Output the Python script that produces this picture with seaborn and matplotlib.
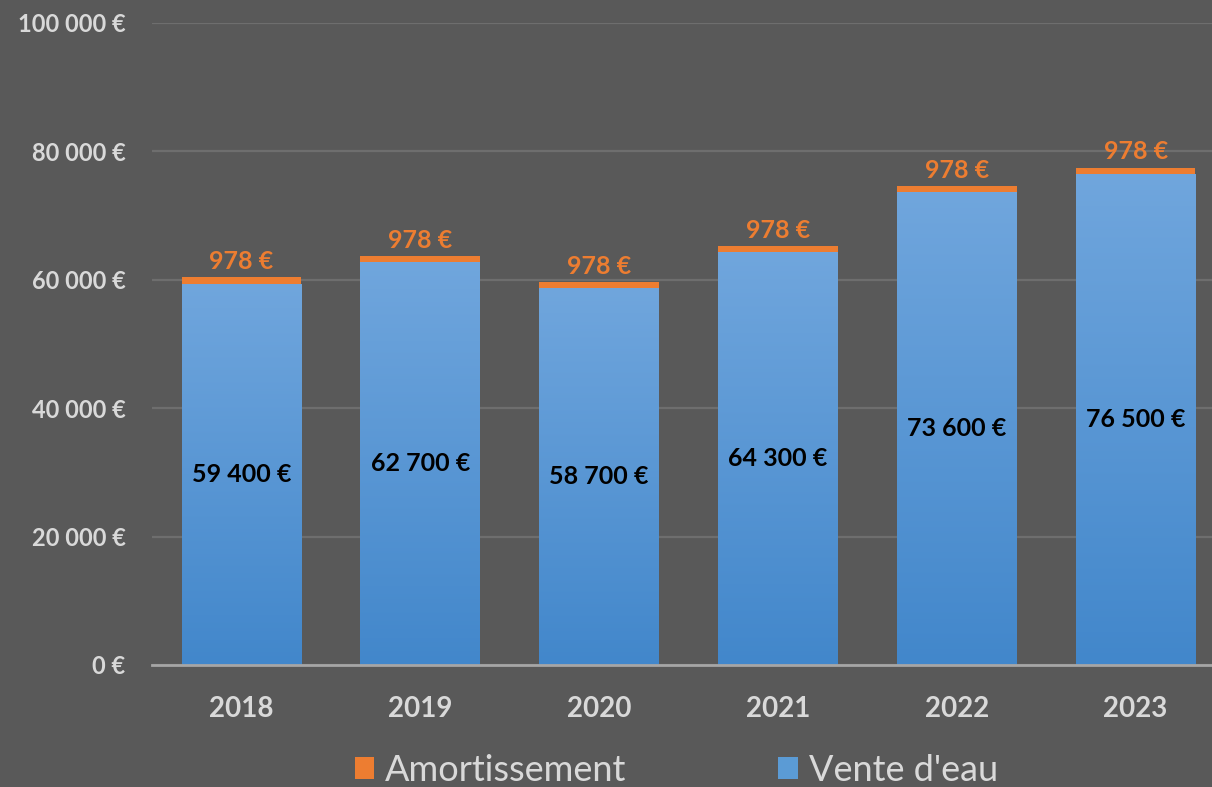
import numpy as np
import pandas as pd
import matplotlib
matplotlib.use("Agg")
import matplotlib.pyplot as plt
import seaborn as sns
from matplotlib.patches import Patch
from matplotlib.colors import LinearSegmentedColormap

years = ["2018", "2019", "2020", "2021", "2022", "2023"]
vente = [59400, 62700, 58700, 64300, 73600, 76500]
amort = [978, 978, 978, 978, 978, 978]
yticks = [0, 20000, 40000, 60000, 80000, 100000]
ytick_labels = ["0 €", "20 000 €", "40 000 €", "60 000 €", "80 000 €", "100 000 €"]
vente_labels = ["59 400 €", "62 700 €", "58 700 €", "64 300 €", "73 600 €", "76 500 €"]
amort_labels = ["978 €"] * 6
series_names = ["Amortissement", "Vente d'eau"]

BG = "#595959"
ORANGE = "#ED7D31"
BLUE = "#5B9BD5"
TXT = "#D9D9D9"

sns.set_theme(style="dark")
plt.rcParams["font.family"] = ["Lato", "DejaVu Sans"]

df = pd.DataFrame({"year": years, "vente": vente, "amort": amort})
df["total"] = df["vente"] + df["amort"]

fig = plt.figure(figsize=(12.12, 7.87), dpi=100, facecolor=BG)
ax = fig.add_axes([152 / 1212, 1 - 665 / 787, (1225 - 152) / 1212, (665 - 23) / 787])
ax.set_facecolor(BG)

sns.barplot(data=df, x="year", y="total", color=ORANGE, saturation=1, width=0.67, ax=ax,
            zorder=2, edgecolor="none", linewidth=0)
n_or = len(ax.patches)
sns.barplot(data=df, x="year", y="vente", color=BLUE, saturation=1, width=0.67, ax=ax,
            zorder=3, edgecolor="none", linewidth=0)
blue_patches = ax.patches[n_or:]

# gradient fill on blue bars
cmap = LinearSegmentedColormap.from_list("g", ["#4287CB", "#70A6DD"])
grad = np.linspace(0, 1, 256).reshape(-1, 1)
for p in blue_patches:
    x0, y0 = p.get_x(), p.get_y()
    w, h = p.get_width(), p.get_height()
    im = ax.imshow(grad, cmap=cmap, aspect="auto", origin="lower",
                   extent=(x0, x0 + w, y0, y0 + h), zorder=3.5)
    im.set_clip_path(p)
ax.set_xlim(-0.5, len(years) - 0.5)
ax.set_ylim(0, 100000)

# labels
for i, p in enumerate(blue_patches):
    cx = p.get_x() + p.get_width() / 2
    ax.text(cx, p.get_height() / 2, vente_labels[i], ha="center", va="center",
            color="black", fontsize=18, fontweight="bold", zorder=5)
for i in range(len(years)):
    p = ax.patches[i]
    cx = p.get_x() + p.get_width() / 2
    ax.annotate(amort_labels[i], (cx, p.get_height()), xytext=(0, 3), textcoords="offset points",
                ha="center", va="bottom", color=ORANGE, fontsize=18, fontweight="bold", zorder=5)

ax.set_yticks(yticks)
ax.set_yticklabels(ytick_labels)
ax.yaxis.grid(True, color="#6E6E6E", linewidth=1.6, zorder=0)
ax.xaxis.grid(False)
ax.set_axisbelow(True)
for s in ["top", "right", "left"]:
    ax.spines[s].set_visible(False)
ax.spines["bottom"].set_color("#A6A6A6")
ax.spines["bottom"].set_linewidth(2)
ax.spines["bottom"].set_zorder(6)
ax.tick_params(axis="y", length=0, pad=19, labelcolor=TXT, labelsize=17)
ax.tick_params(axis="x", length=0, pad=22, labelcolor=TXT, labelsize=20)
for t in ax.get_yticklabels() + ax.get_xticklabels():
    t.set_fontweight("bold")
ax.set_xlabel("")
ax.set_ylabel("")

handles = [Patch(facecolor=ORANGE, edgecolor="none"), Patch(facecolor=BLUE, edgecolor="none")]
leg = fig.legend(handles, series_names, loc="lower center", bbox_to_anchor=(0.558, 0.0),
                 ncol=2, frameon=False, fontsize=26, labelcolor=TXT,
                 handlelength=0.55, handleheight=0.55, handletextpad=0.3, columnspacing=4.2,
                 borderpad=0, borderaxespad=0)

fig.savefig("out.png", dpi=100, facecolor=BG)
